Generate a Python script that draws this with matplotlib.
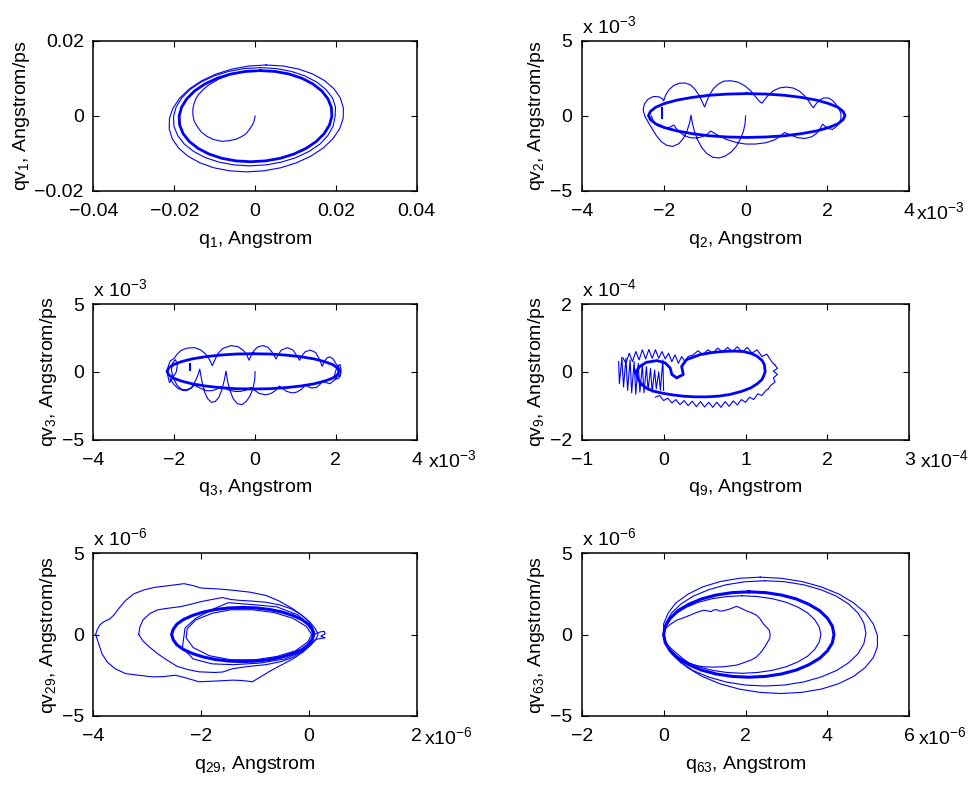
import numpy as np
import matplotlib.pyplot as plt

plt.rcParams['font.family'] = ['Liberation Sans', 'DejaVu Sans']
plt.rcParams['font.size'] = 14
plt.rcParams['mathtext.fontset'] = 'custom'
plt.rcParams['mathtext.rm'] = 'Liberation Sans'
plt.rcParams['mathtext.default'] = 'regular'
plt.rcParams['axes.linewidth'] = 1.1

BLUE = '#0000ff'

# ---------------- data ----------------
# panel 1 : q1 / qv1, units of 1e-3 (plotted as real values)
p1_spiral = [(0, 0), (-0.2, -1.2), (-0.66, -2.4), (-1.4, -3.6), (-2.31, -4.8), (-3.5, -5.6),
             (-4.79, -6.22), (-6.5, -6.6), (-8.26, -6.76), (-10.2, -6.3), (-11.8, -5.51),
             (-13.3, -4.3), (-14.3, -2.84), (-15.1, -1.3), (-15.4, 0.27), (-15.4, 1.9),
             (-15.1, 3.38), (-14.6, 4.7), (-13.9, 5.87), (-12.9, 7.0), (-11.8, 8.0), (-10.4, 9.0),
             (-8.93, 9.87), (-7.3, 10.6), (-5.62, 11.2), (-3.8, 11.6), (-1.9, 11.9), (1.3, 12.1)]
p1_main = [(1.3, 12.1), (4.97, 11.87), (8.45, 11.18), (11.61, 10.05), (14.31, 8.54), (16.48, 6.71),
           (18.02, 4.6), (18.87, 2.32), (19.0, -0.05), (18.41, -2.42), (17.1, -4.7), (15.14, -6.81),
           (12.61, -8.64), (9.61, -10.15), (6.23, -11.28), (2.61, -11.97), (-1.1, -12.2),
           (-4.77, -11.97), (-8.25, -11.28), (-11.41, -10.15), (-14.11, -8.64), (-16.28, -6.81),
           (-17.82, -4.7), (-18.67, -2.42), (-18.8, -0.05), (-18.21, 2.32), (-16.9, 4.6),
           (-14.94, 6.71), (-12.41, 8.54), (-9.41, 10.05), (-6.03, 11.18), (-2.41, 11.87), (1.3, 12.1)]
p1_outer = [(2.72, 13.6), (6.87, 13.33), (10.77, 12.52), (14.26, 11.19), (17.21, 9.42), (19.52, 7.27),
            (21.1, 4.81), (21.86, 2.13), (21.8, -0.65), (20.92, -3.43), (19.24, -6.11), (16.82, -8.57),
            (13.79, -10.72), (10.24, -12.49), (6.29, -13.82), (2.11, -14.63), (-2.12, -14.9),
            (-6.27, -14.63), (-10.17, -13.82), (-13.66, -12.49), (-16.61, -10.72), (-18.92, -8.57),
            (-20.49, -6.11), (-21.26, -3.43), (-21.2, -0.65), (-20.32, 2.13), (-18.63, 4.81),
            (-16.22, 7.27), (-13.19, 9.42), (-9.64, 11.19), (-5.69, 12.52), (-1.51, 13.33), (2.72, 13.6)]
p1_second = [(1.31, 12.9), (5.22, 12.65), (8.95, 11.9), (12.32, 10.69), (15.21, 9.06), (17.52, 7.08),
             (19.16, 4.81), (19.9, 2.36), (19.8, -0.2), (19.3, -2.76), (18.0, -5.21), (16.06, -7.48),
             (13.35, -9.46), (10.14, -11.09), (6.53, -12.3), (2.66, -13.05), (-1.31, -13.3),
             (-5.22, -13.05), (-8.95, -12.3), (-12.32, -11.09), (-15.21, -9.46), (-17.52, -7.48),
             (-19.16, -5.21), (-20.08, -2.76), (-20.2, -0.2), (-19.56, 2.36), (-18.16, 4.81),
             (-16.06, 7.08), (-13.35, 9.06), (-10.14, 10.69), (-6.53, 11.9), (-2.66, 12.65), (1.31, 12.9)]

# panel 2 : q2 / qv2, units of 1e-3
p2_main = [(0.03, 1.49), (0.5, 1.46), (0.95, 1.38), (1.36, 1.24), (1.73, 1.06), (2.02, 0.84),
           (2.25, 0.59), (2.38, 0.31), (2.43, 0.03), (2.38, -0.25), (2.25, -0.53), (2.02, -0.78),
           (1.73, -1.0), (1.36, -1.18), (0.95, -1.32), (0.5, -1.4), (0.03, -1.43), (-0.44, -1.4),
           (-0.89, -1.32), (-1.3, -1.18), (-1.67, -1.0), (-1.97, -0.78), (-2.19, -0.53),
           (-2.32, -0.25), (-2.37, 0.03), (-2.32, 0.31), (-2.19, 0.59), (-1.97, 0.84), (-1.67, 1.06),
           (-1.3, 1.24), (-0.89, 1.38), (-0.44, 1.46), (0.03, 1.49)]
p2_wave = [(0, 0), (-0.01, -0.5), (-0.05, -1.0), (-0.12, -1.5), (-0.22, -2.0), (-0.35, -2.4),
           (-0.5, -2.68), (-0.65, -2.8), (-0.8, -2.75), (-0.95, -2.5), (-1.07, -2.1), (-1.17, -1.6),
           (-1.25, -1.0), (-1.3, -0.45), (-1.33, 0.05), (-1.37, -0.5), (-1.43, -1.0), (-1.52, -1.5),
           (-1.63, -1.85), (-1.78, -2.03), (-1.93, -1.95), (-2.06, -1.7), (-2.18, -1.3),
           (-2.28, -0.85), (-2.38, -0.4), (-2.46, 0.0), (-2.5, 0.4), (-2.47, 0.8), (-2.38, 1.12),
           (-2.25, 1.3), (-2.12, 1.28), (-2.03, 1.15), (-2.0, 1.0),
           (-1.95, 1.4), (-1.87, 1.75), (-1.76, 2.02), (-1.62, 2.18), (-1.48, 2.2), (-1.35, 2.08),
           (-1.24, 1.8), (-1.14, 1.4), (-1.06, 0.95), (-1.0, 0.6),
           (-0.95, 0.95), (-0.88, 1.4), (-0.79, 1.8), (-0.67, 2.12), (-0.53, 2.32), (-0.36, 2.35),
           (-0.18, 2.25), (-0.02, 2.02), (0.12, 1.7), (0.24, 1.3), (0.33, 1.0), (0.4, 0.85),
           (0.47, 1.1), (0.56, 1.4), (0.68, 1.68), (0.83, 1.87), (1.0, 1.93), (1.17, 1.86),
           (1.32, 1.65), (1.44, 1.35), (1.54, 1.0), (1.61, 0.7), (1.66, 0.55),
           (1.72, 0.8), (1.8, 1.05), (1.9, 1.2), (2.02, 1.2), (2.12, 1.05), (2.2, 0.8),
           (2.28, 0.5), (2.33, 0.15), (2.33, -0.2), (2.28, -0.5), (2.2, -0.75), (2.12, -0.9),
           (2.05, -0.85), (1.95, -0.7), (1.88, -0.55), (1.82, -0.85), (1.74, -1.15), (1.62, -1.38),
           (1.45, -1.5), (1.28, -1.45), (1.15, -1.32), (1.04, -1.2), (0.95, -1.1), (0.85, -1.35),
           (0.7, -1.6), (0.5, -1.78), (0.25, -1.87), (0.0, -1.87), (-0.25, -1.75), (-0.48, -1.55),
           (-0.66, -1.3), (-0.78, -1.12), (-0.85, -1.0), (-0.93, -1.2), (-1.05, -1.38),
           (-1.2, -1.47), (-1.35, -1.45), (-1.5, -1.3), (-1.62, -1.05), (-1.7, -0.8), (-1.75, -0.6),
           (-1.85, -0.75), (-2.0, -0.8), (-2.15, -0.65), (-2.25, -0.35), (-2.3, 0.0)]
p2_spike = [(-2.04, 0.55), (-2.04, -0.15)]

# panel 3 : q3 / qv3, units of 1e-3
p3_main = [(-0.05, 1.33), (0.37, 1.31), (0.77, 1.23), (1.13, 1.11), (1.46, 0.95), (1.72, 0.75),
           (1.92, 0.53), (2.04, 0.28), (2.08, 0.03), (2.04, -0.22), (1.92, -0.47), (1.72, -0.69),
           (1.46, -0.89), (1.13, -1.05), (0.77, -1.17), (0.37, -1.25), (-0.05, -1.27),
           (-0.47, -1.25), (-0.87, -1.17), (-1.23, -1.05), (-1.56, -0.89), (-1.82, -0.69),
           (-2.02, -0.47), (-2.14, -0.22), (-2.18, 0.03), (-2.14, 0.28), (-2.02, 0.53),
           (-1.82, 0.75), (-1.56, 0.95), (-1.23, 1.11), (-0.87, 1.23), (-0.47, 1.31), (-0.05, 1.33)]
p3_wave = [(0, 0), (-0.01, -0.6), (-0.05, -1.2), (-0.12, -1.75), (-0.22, -2.2), (-0.33, -2.43),
           (-0.44, -2.35), (-0.54, -2.0), (-0.62, -1.4), (-0.68, -0.7), (-0.72, 0.05),
           (-0.76, -0.6), (-0.82, -1.3), (-0.9, -1.9), (-0.99, -2.2), (-1.08, -2.26), (-1.17, -2.0),
           (-1.25, -1.5), (-1.31, -0.8), (-1.36, 0.0), (-1.37, 0.2), (-1.42, -0.3), (-1.5, -0.8),
           (-1.58, -1.2), (-1.7, -1.4), (-1.82, -1.3), (-1.93, -1.0), (-2.02, -0.5), (-2.07, 0.1),
           (-2.05, 0.6), (-1.98, 0.9), (-1.92, 0.6), (-1.95, 0.0), (-2.05, -0.5), (-2.12, -0.8),
           (-2.16, -0.3), (-2.15, 0.4), (-2.1, 0.8), (-2.0, 1.0),
           (-1.93, 1.3), (-1.83, 1.58), (-1.68, 1.75), (-1.5, 1.78), (-1.35, 1.62), (-1.22, 1.3),
           (-1.12, 0.85), (-1.06, 0.45),
           (-1.0, 0.85), (-0.92, 1.35), (-0.8, 1.72), (-0.6, 1.93), (-0.42, 1.85), (-0.28, 1.55),
           (-0.2, 1.2), (-0.15, 0.85),
           (-0.1, 1.2), (-0.02, 1.6), (0.08, 1.85), (0.2, 1.93), (0.32, 1.8), (0.42, 1.45),
           (0.48, 1.15), (0.52, 0.95),
           (0.57, 1.25), (0.65, 1.6), (0.8, 1.78), (0.94, 1.6), (1.03, 1.2), (1.1, 0.85),
           (1.15, 1.15), (1.24, 1.48), (1.37, 1.6), (1.5, 1.42), (1.59, 0.95), (1.66, 0.4),
           (1.72, 0.8), (1.78, 1.02), (1.85, 1.1), (1.93, 0.95), (2.0, 0.6), (2.08, 0.3),
           (2.12, -0.1), (2.08, -0.45), (2.0, -0.55), (1.97, -0.2), (2.02, 0.3), (2.1, 0.55),
           (2.13, 0.1), (2.1, -0.35), (2.05, -0.3),
           (1.97, -0.6), (1.85, -0.88), (1.75, -0.8), (1.68, -0.65), (1.6, -0.95), (1.52, -1.15),
           (1.4, -1.2), (1.3, -1.08), (1.25, -0.95), (1.15, -1.3), (1.03, -1.5), (0.92, -1.56),
           (0.78, -1.45), (0.66, -1.2), (0.6, -1.05), (0.5, -1.4), (0.38, -1.62), (0.26, -1.7),
           (0.1, -1.6), (-0.02, -1.35), (-0.1, -1.15), (-0.22, -1.35), (-0.36, -1.45),
           (-0.5, -1.45), (-0.65, -1.35), (-0.78, -1.2), (-0.85, -1.1), (-0.96, -1.3),
           (-1.08, -1.4), (-1.2, -1.4), (-1.33, -1.25), (-1.45, -1.08), (-1.5, -1.0),
           (-1.6, -1.22), (-1.7, -1.33), (-1.8, -1.36), (-1.92, -1.2), (-2.02, -0.9), (-2.1, -0.5)]
p3_spike = [(-1.6, 0.6), (-1.6, 0.1)]

# panel 4 : q9 / qv9, units of 1e-4
p4_main = [(-0.34, 0), (-0.29, 0.16), (-0.21, 0.28), (-0.08, 0.33), (0.02, 0.26), (0.08, 0.11),
           (0.1, -0.08), (0.16, -0.18), (0.24, -0.08), (0.22, 0.16), (0.28, 0.36), (0.45, 0.51),
           (0.6, 0.57), (0.73, 0.6), (0.85, 0.61), (0.97, 0.6), (1.07, 0.54), (1.14, 0.46),
           (1.2, 0.34), (1.23, 0.21), (1.24, 0), (1.22, -0.13), (1.2, -0.23), (1.14, -0.36),
           (1.06, -0.48), (0.95, -0.58), (0.81, -0.67), (0.67, -0.72), (0.53, -0.74),
           (0.38, -0.74), (0.24, -0.72), (0.1, -0.68), (-0.04, -0.62), (-0.14, -0.56),
           (-0.21, -0.48), (-0.27, -0.37), (-0.31, -0.23), (-0.34, 0)]
p4_top_x = [-0.5, -0.46, -0.42, -0.38, -0.34, -0.30, -0.26, -0.22, -0.18, -0.14, -0.10, -0.06,
            -0.02, 0.02, 0.06, 0.10, 0.14, 0.18, 0.22, 0.26, 0.30, 0.36, 0.42, 0.48, 0.54, 0.60,
            0.66, 0.72, 0.78, 0.84, 0.90, 0.96, 1.02, 1.08, 1.14, 1.20, 1.26, 1.32, 1.36]
p4_top_y = [0.42, 0.25, 0.55, 0.3, 0.6, 0.35, 0.65, 0.38, 0.66, 0.4, 0.65, 0.4, 0.6, 0.38, 0.55,
            0.3, 0.5, 0.25, 0.45, 0.3, 0.45, 0.5, 0.62, 0.5, 0.65, 0.55, 0.7, 0.58, 0.72, 0.6,
            0.74, 0.58, 0.72, 0.55, 0.65, 0.45, 0.52, 0.3, 0.2]
p4_right_x = [1.36, 1.39, 1.34, 1.39, 1.34, 1.36, 1.3, 1.28]
p4_right_y = [0.2, 0.1, 0.02, -0.08, -0.18, -0.3, -0.42, -0.5]
p4_bot_x = [1.28, 1.25, 1.2, 1.15, 1.1, 1.05, 1.0, 0.95, 0.9, 0.85, 0.8, 0.75, 0.7, 0.65, 0.6,
            0.55, 0.5, 0.45, 0.4, 0.35, 0.3, 0.25, 0.2, 0.15, 0.1, 0.05, 0.0, -0.05, -0.1]
p4_bot_y = [-0.5, -0.55, -0.7, -0.65, -0.82, -0.75, -0.9, -0.82, -0.98, -0.86, -1.02, -0.88,
            -1.05, -0.9, -1.05, -0.9, -1.04, -0.88, -1.03, -0.87, -1.0, -0.85, -0.97, -0.82,
            -0.92, -0.78, -0.85, -0.7, -0.75]
p4_left_x = [-0.55, -0.54, -0.51, -0.49, -0.46, -0.44, -0.41, -0.39, -0.36, -0.34, -0.31, -0.29,
             -0.26, -0.24, -0.21, -0.19, -0.16, -0.14, -0.11, -0.09, -0.06, -0.04, -0.01, 0.0]
p4_left_y = [0.3, -0.35, 0.42, -0.45, 0.4, -0.55, 0.35, -0.62, 0.3, -0.66, 0.25, -0.6, 0.2,
             -0.62, 0.15, -0.55, 0.1, -0.6, 0.05, -0.5, 0.0, -0.55, 0.35, -0.55]

# panel 5 : q29 / qv29, units of 1e-6
p5_main = [(-1.23, 1.66), (-0.97, 1.63), (-0.72, 1.53), (-0.5, 1.38), (-0.3, 1.17), (-0.13, 0.92),
           (-0.01, 0.62), (0.06, 0.3), (0.09, 0), (0.06, -0.3), (-0.01, -0.62), (-0.13, -0.92),
           (-0.3, -1.17), (-0.5, -1.38), (-0.72, -1.53), (-0.97, -1.63), (-1.23, -1.66),
           (-1.49, -1.63), (-1.74, -1.53), (-1.96, -1.38), (-2.16, -1.17), (-2.33, -0.92),
           (-2.45, -0.64), (-2.52, -0.32), (-2.55, 0), (-2.52, 0.32), (-2.45, 0.64), (-2.33, 0.92),
           (-2.16, 1.17), (-1.96, 1.38), (-1.74, 1.53), (-1.49, 1.63), (-1.23, 1.66)]
p5_inner = [(0.05, 0), (-0.05, 0.5), (-0.3, 1.0), (-0.65, 1.35), (-1.05, 1.52), (-1.45, 1.52),
            (-1.8, 1.3), (-2.1, 0.9), (-2.26, 0.35), (-2.28, -0.2), (-2.15, -0.8), (-1.85, -1.3),
            (-1.45, -1.55), (-1.0, -1.55), (-0.6, -1.35), (-0.25, -1.0), (-0.02, -0.45), (0.05, 0)]
p5_outer = [(-3.96, 0), (-3.93, 0.3), (-3.88, 0.6), (-3.8, 0.8), (-3.7, 0.95), (-3.62, 1.2),
            (-3.53, 1.6), (-3.4, 2.1), (-3.25, 2.5), (-3.05, 2.75), (-2.85, 2.9), (-2.6, 3.0),
            (-2.32, 3.12), (-2.15, 3.0), (-2.0, 2.85), (-1.7, 2.8), (-1.42, 2.72), (-1.1, 2.6),
            (-0.8, 2.4), (-0.55, 2.05), (-0.31, 1.6), (-0.12, 1.15), (0.02, 0.75), (0.12, 0.35),
            (0.17, 0.0), (0.12, -0.35), (0.02, -0.7), (-0.12, -1.1), (-0.3, -1.5), (-0.5, -1.85),
            (-0.7, -2.2), (-0.9, -2.6), (-1.05, -2.9), (-1.25, -2.82), (-1.42, -2.8),
            (-1.7, -2.85), (-2.04, -2.9), (-2.3, -2.65), (-2.48, -2.5), (-2.7, -2.58),
            (-2.9, -2.6), (-3.16, -2.5), (-3.4, -2.4), (-3.6, -2.1), (-3.74, -1.7),
            (-3.84, -1.2), (-3.9, -0.6), (-3.96, 0)]
p5_second = [(-3.16, 0), (-3.14, 0.45), (-3.08, 0.9), (-2.95, 1.3), (-2.8, 1.52), (-2.6, 1.62),
             (-2.4, 1.7), (-2.2, 1.85), (-2.0, 2.02), (-1.8, 2.15), (-1.61, 2.27), (-1.45, 2.15),
             (-1.3, 2.1), (-1.05, 2.05), (-0.8, 1.98), (-0.55, 1.82), (-0.35, 1.6), (-0.18, 1.3),
             (-0.05, 0.95), (0.05, 0.55), (0.1, 0.15), (0.07, -0.3), (-0.02, -0.7), (-0.15, -1.1),
             (-0.3, -1.4), (-0.5, -1.65), (-0.8, -1.85), (-1.1, -1.95), (-1.42, -2.1),
             (-1.6, -2.3), (-1.75, -2.33), (-2.04, -2.29), (-2.25, -2.15), (-2.45, -1.95),
             (-2.62, -1.6), (-2.8, -1.2), (-2.95, -0.8), (-3.08, -0.4), (-3.16, 0)]
p5_third = [(0.1, 0), (0.2, 0.15), (0.28, 0.2), (0.3, 0.05), (0.22, -0.1), (0.3, -0.2),
            (0.12, -0.3), (-0.1, -1.0), (-0.45, -1.5), (-0.9, -1.75), (-1.4, -1.85), (-1.8, -1.8),
            (-2.15, -1.5), (-2.35, -0.8), (-2.3, 0.4), (-2.1, 1.0), (-1.75, 1.6), (-1.5, 1.95),
            (-1.1, 1.85), (-0.6, 1.7), (-0.2, 1.2), (0.05, 0.4), (0.1, 0)]

# panel 6 : q63 / qv63, units of 1e-6
p6_main = [(2.08, 2.62), (2.49, 2.57), (2.88, 2.42), (3.24, 2.18), (3.55, 1.85), (3.81, 1.46),
           (4.0, 1.0), (4.12, 0.51), (4.16, 0), (4.12, -0.51), (4.0, -1.0), (3.81, -1.46),
           (3.55, -1.85), (3.24, -2.18), (2.88, -2.42), (2.49, -2.57), (2.08, -2.62), (1.67, -2.57),
           (1.28, -2.42), (0.92, -2.18), (0.61, -1.85), (0.35, -1.46), (0.16, -1.0), (0.04, -0.51),
           (0, 0), (0.04, 0.51), (0.16, 1.0), (0.35, 1.46), (0.61, 1.85), (0.92, 2.18), (1.28, 2.42),
           (1.67, 2.57), (2.08, 2.62)]
p6_inner = [(1.92, 2.38), (2.29, 2.33), (2.65, 2.2), (2.99, 1.98), (3.28, 1.68), (3.52, 1.32),
            (3.69, 0.91), (3.8, 0.46), (3.84, 0), (3.8, -0.46), (3.69, -0.91), (3.52, -1.32),
            (3.28, -1.68), (2.99, -1.98), (2.65, -2.2), (2.29, -2.33), (1.92, -2.38), (1.55, -2.33),
            (1.19, -2.2), (0.85, -1.98), (0.56, -1.68), (0.32, -1.32), (0.15, -0.91), (0.04, -0.46),
            (0, 0), (0.04, 0.46), (0.15, 0.91), (0.32, 1.32), (0.56, 1.68), (0.85, 1.98),
            (1.19, 2.2), (1.55, 2.33), (1.92, 2.38)]
p6_outer = [(2.36, 3.52), (2.87, 3.45), (3.38, 3.25), (3.85, 2.92), (4.29, 2.47), (4.64, 1.94),
            (4.93, 1.32), (5.12, 0.65), (5.22, -0.05), (5.22, -0.75), (5.12, -1.42), (4.92, -2.03),
            (4.64, -2.57), (4.27, -3.02), (3.85, -3.35), (3.37, -3.55), (2.86, -3.62),
            (2.35, -3.55), (1.85, -3.35), (1.37, -3.02), (0.94, -2.57), (0.58, -2.03), (0.3, -1.42),
            (0.1, -0.75), (0, -0.05), (0.0, 0.65), (0.11, 1.32), (0.3, 1.94), (0.59, 2.47),
            (0.95, 2.92), (1.38, 3.25), (1.85, 3.45), (2.36, 3.52)]
p6_second = [(2.47, 3.3), (2.95, 3.24), (3.42, 3.05), (3.84, 2.75), (4.22, 2.35), (4.52, 1.87),
             (4.75, 1.31), (4.89, 0.7), (4.94, 0.07), (4.89, -0.56), (4.75, -1.17), (4.52, -1.73),
             (4.22, -2.21), (3.84, -2.61), (3.42, -2.91), (2.95, -3.1), (2.47, -3.16), (1.99, -3.1),
             (1.52, -2.91), (1.1, -2.61), (0.72, -2.21), (0.42, -1.73), (0.19, -1.17), (0.05, -0.56),
             (0, 0.07), (0.05, 0.7), (0.19, 1.31), (0.42, 1.87), (0.72, 2.35), (1.1, 2.75),
             (1.52, 3.05), (1.99, 3.24), (2.47, 3.3)]
p6_rough = [(0.0, 0.27), (0.15, 0.6), (0.32, 0.88), (0.48, 1.02), (0.64, 1.18), (0.8, 1.35),
            (0.97, 1.49), (1.08, 1.45), (1.15, 1.4), (1.22, 1.5), (1.29, 1.53), (1.37, 1.44),
            (1.45, 1.45), (1.52, 1.5), (1.6, 1.55), (1.7, 1.65), (1.78, 1.73), (1.9, 1.6),
            (2.02, 1.45), (2.15, 1.33), (2.27, 1.18), (2.36, 0.95), (2.43, 0.67), (2.5, 0.48),
            (2.58, 0.27), (2.6, 0.0), (2.59, -0.24), (2.53, -0.5), (2.47, -0.76), (2.38, -1.08),
            (2.27, -1.37), (2.15, -1.55), (2.02, -1.67), (1.9, -1.78), (1.78, -1.88),
            (1.62, -1.93), (1.45, -1.98), (1.2, -2.0), (0.97, -1.98), (0.8, -1.9), (0.64, -1.78),
            (0.48, -1.5), (0.32, -1.16), (0.18, -0.85), (0.07, -0.55), (-0.02, 0)]

# ---------------- layout ----------------
col_x = [0.0954, 0.5936]
col_w = [0.3298, 0.3343]
row_y = [0.7567, 0.4401, 0.0879]
row_h = [0.1911, 0.1726, 0.2076]

M = '\u2212'
panels = [
    dict(xlim=(-0.04, 0.04), ylim=(-0.02, 0.02),
         xt=[-0.04, -0.02, 0, 0.02, 0.04], xl=[M + '0.04', M + '0.02', '0', '0.02', '0.04'],
         yt=[-0.02, 0, 0.02], yl=[M + '0.02', '0', '0.02'],
         xlab='q$_1$, Angstrom', ylab='qv$_1$, Angstrom/ps', exp=None, xoff=0),
    dict(xlim=(-4, 4), ylim=(-5, 5),
         xt=[-4, -2, 0, 2, 4], xl=[M + '4', M + '2', '0', '2', '4'],
         yt=[-5, 0, 5], yl=[M + '5', '0', '5'],
         xlab='q$_2$, Angstrom', ylab='qv$_2$, Angstrom/ps', exp='3', xoff=5),
    dict(xlim=(-4, 4), ylim=(-5, 5),
         xt=[-4, -2, 0, 2, 4], xl=[M + '4', M + '2', '0', '2', '4'],
         yt=[-5, 0, 5], yl=[M + '5', '0', '5'],
         xlab='q$_3$, Angstrom', ylab='qv$_3$, Angstrom/ps', exp='3', xoff=8),
    dict(xlim=(-1, 3), ylim=(-2, 2),
         xt=[-1, 0, 1, 2, 3], xl=[M + '1', '0', '1', '2', '3'],
         yt=[-2, 0, 2], yl=[M + '2', '0', '2'],
         xlab='q$_9$, Angstrom', ylab='qv$_9$, Angstrom/ps', exp='4', xoff=8),
    dict(xlim=(-4, 2), ylim=(-5, 5),
         xt=[-4, -2, 0, 2], xl=[M + '4', M + '2', '0', '2'],
         yt=[-5, 0, 5], yl=[M + '5', '0', '5'],
         xlab='q$_{29}$, Angstrom', ylab='qv$_{29}$, Angstrom/ps', exp='6', xoff=5),
    dict(xlim=(-2, 6), ylim=(-5, 5),
         xt=[-2, 0, 2, 4, 6], xl=[M + '2', '0', '2', '4', '6'],
         yt=[-5, 0, 5], yl=[M + '5', '0', '5'],
         xlab='q$_{63}$, Angstrom', ylab='qv$_{63}$, Angstrom/ps', exp='6', xoff=6),
]

fig = plt.figure(figsize=(9.8, 7.85), dpi=100)
axes = []
for i, p in enumerate(panels):
    r, c = divmod(i, 2)
    ax = fig.add_axes([col_x[c], row_y[r], col_w[c], row_h[r]])
    ax.set_xlim(p['xlim'])
    ax.set_ylim(p['ylim'])
    ax.set_xticks(p['xt'])
    ax.set_xticklabels(p['xl'])
    ax.set_yticks(p['yt'])
    ax.set_yticklabels(p['yl'])
    ax.tick_params(direction='in', length=4, width=0.8, top=True, right=True)
    ax.tick_params(axis='x', pad=9)
    ax.tick_params(axis='y', pad=7)
    ax.set_xlabel(p['xlab'], labelpad=6)
    ax.set_ylabel(p['ylab'], labelpad=2)
    if p['exp']:
        ax.annotate('x 10$^{' + M + p['exp'] + '}$', xy=(0, 1), xycoords='axes fraction',
                    xytext=(0, 6), textcoords='offset points', ha='left', va='baseline')
        ax.annotate('x10$^{' + M + p['exp'] + '}$', xy=(1, 0), xycoords='axes fraction',
                    xytext=(p['xoff'], -20), textcoords='offset points',
                    ha='left', va='baseline')
    axes.append(ax)


def draw(ax, pts, scale=1, lw=0.8):
    a = np.array(pts, dtype=float)
    ax.plot(a[:, 0] * scale, a[:, 1] * scale, color=BLUE, lw=lw)


def draw_xy(ax, xs, ys, lw=0.8):
    ax.plot(xs, ys, color=BLUE, lw=lw)


# panel 1 (real values)
draw(axes[0], p1_spiral, 1e-3)
draw(axes[0], p1_outer, 1e-3)
draw(axes[0], p1_second, 1e-3)
draw(axes[0], p1_main, 1e-3, lw=2.0)

# panel 2 / 3 (x 1e-3 on axes)
draw(axes[1], p2_wave)
draw(axes[1], p2_spike, lw=1.5)
draw(axes[1], p2_main, lw=2.0)
draw(axes[2], p3_wave)
draw(axes[2], p3_spike, lw=1.5)
draw(axes[2], p3_main, lw=2.0)

# panel 4 (x 1e-4)
draw_xy(axes[3], p4_top_x, p4_top_y)
draw_xy(axes[3], p4_right_x, p4_right_y)
draw_xy(axes[3], p4_bot_x, p4_bot_y)
draw_xy(axes[3], p4_left_x, p4_left_y)
draw(axes[3], p4_main, lw=2.0)

# panel 5 (x 1e-6)
draw(axes[4], p5_outer)
draw(axes[4], p5_second)
draw(axes[4], p5_third)
draw(axes[4], p5_inner)
draw(axes[4], p5_main, lw=2.2)

# panel 6 (x 1e-6)
draw(axes[5], p6_outer)
draw(axes[5], p6_second)
draw(axes[5], p6_rough)
draw(axes[5], p6_inner)
draw(axes[5], p6_main, lw=2.2)

fig.savefig('out.png', dpi=100)
